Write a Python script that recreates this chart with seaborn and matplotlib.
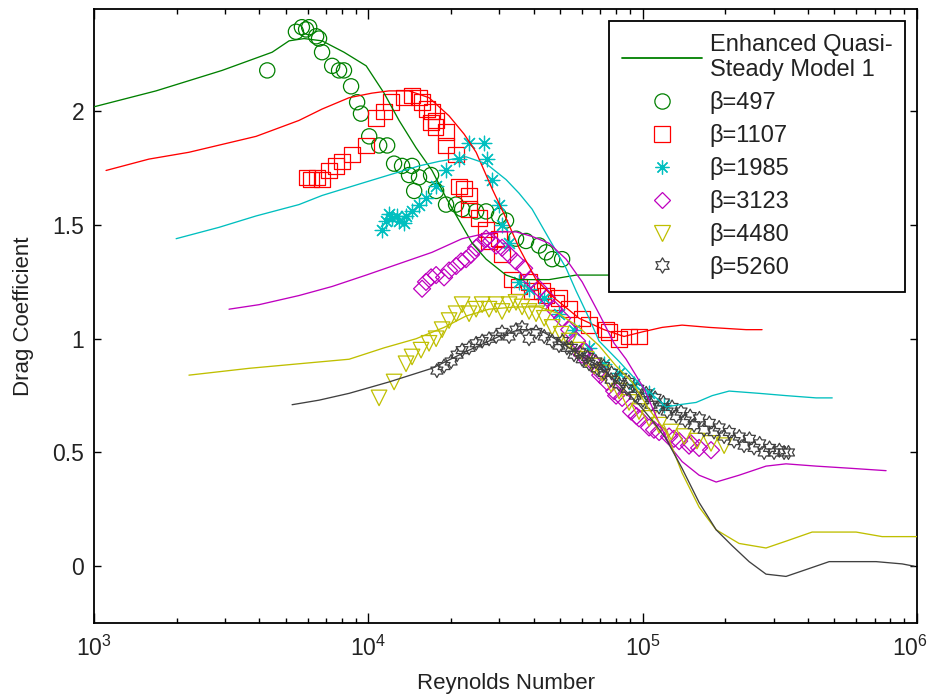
import numpy as np
import matplotlib
matplotlib.use("Agg")
import matplotlib.pyplot as plt
import seaborn as sns
from matplotlib.lines import Line2D
from matplotlib.path import Path
from matplotlib.transforms import ScaledTranslation
from matplotlib.ticker import FixedLocator, LogLocator, NullFormatter

# ---------------- data ----------------
betas = ["β=497", "β=1107", "β=1985", "β=3123", "β=4480", "β=5260"]
model_label = "Enhanced Quasi-\nSteady Model 1"

# experimental points
exp497_re = [4280, 5445, 5725, 5930, 6085, 6450, 6610, 6780, 7380, 7820, 8150, 8650, 9100, 9400,
             10070, 10950, 11710, 12410, 13270, 14430, 14070, 15300, 16930, 14690, 17660, 19200,
             20880, 21970, 24710, 26870, 29940, 31760, 34540, 37560, 41910, 44460, 46770, 50850]
exp497_cd = [2.18, 2.35, 2.37, 2.36, 2.37, 2.33, 2.32, 2.26, 2.20, 2.18, 2.18, 2.11, 2.04, 1.99,
             1.89, 1.85, 1.85, 1.77, 1.76, 1.76, 1.72, 1.71, 1.72, 1.65, 1.65, 1.59,
             1.59, 1.57, 1.56, 1.56, 1.54, 1.52, 1.44, 1.43, 1.41, 1.38, 1.35, 1.35]

exp1107_re = [5985, 6185, 6500, 6780, 7190, 7620, 8020, 8730, 9820, 10670, 11410, 12100, 13500,
              14430, 15300, 15690, 16370, 17060, 17660, 16900, 17600, 19200, 19200, 20880, 21420,
              22300, 23290, 23290, 25330, 26870, 27540, 29940, 30710, 33410, 35420, 38530, 39530,
              42980, 44460, 48330, 49540, 53950, 60170, 63780, 73620, 75530, 82070, 89200, 97000]
exp1107_cd = [1.71, 1.70, 1.71, 1.70, 1.74, 1.76, 1.78, 1.81, 1.85, 1.97, 2.00, 2.04, 2.06,
              2.07, 2.06, 2.04, 2.01, 2.00, 1.96, 1.95, 1.93, 1.91, 1.85, 1.81, 1.67,
              1.66, 1.63, 1.57, 1.53, 1.48, 1.43, 1.44, 1.37, 1.26, 1.23, 1.25, 1.21,
              1.21, 1.19, 1.16, 1.18, 1.13, 1.09, 1.06, 1.04, 1.03, 1.00, 1.01, 1.01]

exp1985_re = [11220, 11620, 11890, 12190, 12730, 12940, 13500, 13720, 14430, 15300, 16220, 17660,
              19200, 21420, 23290, 26430, 27100, 28250, 29940, 30710, 32580, 35420, 38530, 43650,
              49540, 56200, 63780, 72330, 82070, 93100, 105500, 119700]
exp1985_cd = [1.48, 1.52, 1.55, 1.53, 1.54, 1.52, 1.51, 1.54, 1.56, 1.59, 1.62, 1.67,
              1.74, 1.79, 1.86, 1.86, 1.79, 1.70, 1.59, 1.50, 1.42, 1.25, 1.22, 1.18,
              1.11, 1.04, 0.96, 0.89, 0.85, 0.80, 0.76, 0.71]

exp3123_re = [15700, 16220, 16930, 17660, 18880, 19690, 20880, 21780, 22710, 23680, 24710, 25760,
              26870, 28000, 29220, 30710, 32580, 34540, 36970, 39170, 41910, 44800, 47530, 50850,
              53950, 57660, 61140, 65430, 69350, 74180, 78700, 84160, 90760, 97000, 105500,
              114800, 124800, 135800, 147600, 160600, 177500,
              60000, 70000, 80000, 95000, 110000, 130000, 150000]
exp3123_cd = [1.22, 1.25, 1.27, 1.28, 1.27, 1.30, 1.32, 1.34, 1.35, 1.37, 1.40, 1.42,
              1.44, 1.43, 1.41, 1.40, 1.37, 1.34, 1.31, 1.26, 1.22, 1.18, 1.13, 1.09,
              1.04, 0.99, 0.95, 0.90, 0.86, 0.81, 0.77, 0.74, 0.68, 0.65, 0.61,
              0.59, 0.57, 0.55, 0.53, 0.52, 0.51,
              0.93, 0.84, 0.75, 0.66, 0.60, 0.56, 0.54]

exp4480_re = [10940, 12410, 13720, 14430, 15560, 16640, 17660, 18570, 19690, 20880, 21970, 23290,
              24710, 25990, 27540, 29220, 30710, 32580, 34540, 36340, 38530, 40860, 43750, 46770,
              50470, 53950, 57660, 62170, 66530, 71130, 76700, 82070, 89200, 97000, 105500,
              114800, 127000, 141600, 157800, 177500, 198100]
exp4480_cd = [0.74, 0.81, 0.89, 0.92, 0.95, 0.98, 1.00, 1.04, 1.08, 1.11, 1.15, 1.11,
              1.13, 1.15, 1.13, 1.15, 1.12, 1.15, 1.16, 1.14, 1.12, 1.11, 1.09, 1.05,
              1.02, 0.99, 0.95, 0.91, 0.88, 0.85, 0.80, 0.77, 0.72, 0.68, 0.65,
              0.62, 0.59, 0.57, 0.55, 0.54, 0.53]

exp5260_re = [17780, 18880, 20030, 21060, 21970, 23290, 24710, 25990, 27540, 29220, 30710, 32580,
              34540, 36340, 38530, 40860, 43750, 46770, 49540, 52970, 56200, 60170, 63780, 68180,
              72330, 76700, 82070, 87700, 93800, 100200, 107300, 114800, 122800, 132500, 142900,
              153900, 167400, 182000, 198100, 215400, 234200, 254700, 277200, 301300, 327700,
              51000, 55000, 59000, 63000, 67500, 72000, 77000, 83000, 89000, 96000, 103000,
              111000, 119000, 128000, 138000, 149000, 161000, 175000, 190000, 207000, 225000,
              245000, 267000, 290000, 315000, 340000]
exp5260_cd = [0.86, 0.88, 0.90, 0.93, 0.95, 0.96, 0.98, 0.99, 1.00, 1.01, 1.03, 1.01,
              1.04, 1.05, 1.00, 1.03, 1.01, 0.99, 0.97, 0.96, 0.93, 0.91, 0.89, 0.87,
              0.85, 0.82, 0.80, 0.78, 0.75, 0.73, 0.71, 0.70, 0.68, 0.66, 0.64,
              0.62, 0.60, 0.59, 0.57, 0.55, 0.53, 0.52, 0.50, 0.50, 0.50,
              0.99, 0.96, 0.94, 0.92, 0.90, 0.88, 0.85, 0.83, 0.81, 0.78, 0.76,
              0.74, 0.72, 0.70, 0.68, 0.66, 0.65, 0.63, 0.61, 0.59, 0.57,
              0.56, 0.54, 0.52, 0.51, 0.50]

# model curves
mod497_re = [1000, 1683, 2930, 4460, 5140, 5830, 6780, 8150, 9820, 11410, 12940, 14920, 17060,
             19200, 21420, 23900, 26870, 31760, 35420, 39530, 45570, 57200, 75400, 120000]
mod497_cd = [2.02, 2.09, 2.18, 2.26, 2.31, 2.32, 2.31, 2.26, 2.20, 2.08, 1.96, 1.84, 1.74,
             1.62, 1.52, 1.42, 1.35, 1.28, 1.26, 1.26, 1.26, 1.28, 1.28, 1.28]

mod1107_re = [1106, 1585, 2218, 3897, 5585, 6780, 8510, 10300, 11890, 14070, 16640, 19690, 22340,
              24710, 28250, 31760, 35420, 40860, 47530, 58670, 72330, 85500, 99500, 117800,
              139200, 174600, 238300, 272400]
mod1107_cd = [1.74, 1.79, 1.82, 1.89, 1.96, 2.01, 2.06, 2.08, 2.09, 2.09, 2.06, 1.98, 1.90,
              1.82, 1.66, 1.53, 1.40, 1.26, 1.18, 1.09, 1.04, 1.01, 1.03, 1.05,
              1.06, 1.05, 1.04, 1.04]

mod1985_re = [1992, 2856, 3897, 5585, 6780, 9250, 11890, 15300, 18100, 22710, 26870, 31760, 35420,
              39530, 45570, 52590, 57200, 63780, 69350, 82070, 99500, 112000, 121700, 135800,
              156600, 179300, 206600, 265600, 333100, 428800, 490900]
mod1985_cd = [1.44, 1.49, 1.54, 1.59, 1.63, 1.68, 1.72, 1.76, 1.78, 1.80, 1.77, 1.70, 1.64,
              1.57, 1.44, 1.31, 1.21, 1.09, 0.99, 0.90, 0.79, 0.74, 0.70, 0.71,
              0.72, 0.75, 0.77, 0.76, 0.75, 0.74, 0.74]

mod3123_re = [3105, 4000, 5585, 7380, 9820, 12940, 17060, 21970, 26000, 29940, 34540, 39530, 45570,
              52590, 60170, 69350, 78700, 87010, 101200, 114800, 127000, 139200, 160600, 185300,
              224600, 281600, 333100, 428800, 580000, 771400]
mod3123_cd = [1.13, 1.15, 1.19, 1.23, 1.28, 1.33, 1.38, 1.44, 1.46, 1.47, 1.47, 1.45, 1.42,
              1.35, 1.25, 1.11, 0.98, 0.91, 0.78, 0.63, 0.52, 0.46, 0.40, 0.37,
              0.40, 0.44, 0.45, 0.44, 0.43, 0.42]

mod4480_re = [2218, 3675, 5585, 8510, 11410, 14920, 18880, 22710, 27540, 34540, 41910, 49540, 58670,
              69350, 80010, 91520, 105500, 121700, 139200, 160600, 185300, 224600, 281600,
              333100, 414600, 600000, 746400, 1000000]
mod4480_cd = [0.84, 0.87, 0.89, 0.91, 0.96, 1.00, 1.05, 1.10, 1.13, 1.14, 1.14, 1.11, 1.05,
              0.97, 0.88, 0.81, 0.69, 0.59, 0.41, 0.26, 0.16, 0.10, 0.08,
              0.11, 0.15, 0.15, 0.13, 0.13]

mod5260_re = [5272, 6610, 8510, 11890, 17060, 23290, 29940, 35420, 41910, 49540, 58670, 69350,
              82070, 97000, 110200, 121700, 139200, 160600, 185300, 211900, 244300, 281600,
              333100, 394100, 478500, 709600, 883000, 975800]
mod5260_cd = [0.71, 0.73, 0.76, 0.81, 0.87, 0.95, 1.01, 1.04, 1.04, 0.99, 0.93, 0.88,
              0.80, 0.71, 0.63, 0.56, 0.43, 0.28, 0.16, 0.09, 0.02, -0.035,
              -0.045, -0.015, 0.02, 0.02, 0.01, 0.0]

xtick_vals = [1e3, 1e4, 1e5, 1e6]
xtick_labels = [r"$10^{3}$", r"$10^{4}$", r"$10^{5}$", r"$10^{6}$"]
ytick_vals = [0, 0.5, 1, 1.5, 2]
ytick_labels = ["0", "0.5", "1", "1.5", "2"]

# ---------------- style ----------------
sns.set_theme(style="ticks")
plt.rcParams["font.family"] = ["Liberation Sans", "DejaVu Sans"]
plt.rcParams["mathtext.fontset"] = "custom"
plt.rcParams["mathtext.rm"] = "Liberation Sans"
plt.rcParams["mathtext.it"] = "Liberation Sans"
plt.rcParams["mathtext.default"] = "regular"

GREEN, RED, CYAN, MAG, YEL, BLK = "#008000", "#ff0000", "#00bfbf", "#bf00bf", "#bfbf00", "#404040"

ang = np.deg2rad(90 + np.arange(12) * 30)
rad = np.where(np.arange(12) % 2 == 0, 1.0, 0.577)
hv = np.column_stack([rad * np.cos(ang), rad * np.sin(ang)])
hexagram = Path(np.vstack([hv, hv[:1]]), closed=True)
asterisk = (8, 2, 0)

fig = plt.figure(figsize=(9.32, 6.98), dpi=100)
ax = fig.add_axes([0.1009, 0.1074, 0.8830, 0.8797])
ax.set_xscale("log")

series = [
    (exp497_re, exp497_cd, "o", GREEN, 120),
    (exp1107_re, exp1107_cd, "s", RED, 125),
    (exp1985_re, exp1985_cd, asterisk, CYAN, 110),
    (exp3123_re, exp3123_cd, "D", MAG, 75),
    (exp4480_re, exp4480_cd, "v", YEL, 125),
    (exp5260_re, exp5260_cd, hexagram, BLK, 100),
]
for re_, cd_, mk, col, sz in series:
    if mk is asterisk:
        sns.scatterplot(x=re_, y=cd_, ax=ax, marker=mk, s=sz, color=col,
                        edgecolor=col, linewidth=0.9, zorder=3, legend=False)
    else:
        sns.scatterplot(x=re_, y=cd_, ax=ax, marker=mk, s=sz, facecolor="none",
                        edgecolor=col, linewidth=0.9, zorder=3, legend=False)

models = [
    (mod497_re, mod497_cd, GREEN), (mod1107_re, mod1107_cd, RED),
    (mod1985_re, mod1985_cd, CYAN), (mod3123_re, mod3123_cd, MAG),
    (mod4480_re, mod4480_cd, YEL), (mod5260_re, mod5260_cd, BLK),
]
for re_, cd_, col in models:
    sns.lineplot(x=re_, y=cd_, ax=ax, color=col, linewidth=0.95, sort=False,
                 estimator=None, zorder=4, legend=False)

ax.set_xlim(1e3, 1e6)
ax.set_ylim(-0.25, 2.45)
ax.xaxis.set_major_locator(FixedLocator(xtick_vals))
ax.set_xticklabels(xtick_labels)
ax.xaxis.set_minor_locator(LogLocator(base=10, subs=np.arange(2, 10)))
ax.xaxis.set_minor_formatter(NullFormatter())
ax.set_yticks(ytick_vals)
ax.set_yticklabels(ytick_labels)

ax.tick_params(axis="both", which="both", direction="in", top=True, right=True,
               labelsize=16.5, color="black", width=1.0, labelcolor="#222222")
ax.tick_params(axis="x", which="major", length=7, pad=9)
ax.tick_params(axis="x", which="minor", length=3.6)
ax.tick_params(axis="y", which="major", length=5, pad=7)
for sp in ax.spines.values():
    sp.set_linewidth(1.3)
    sp.set_color("black")

# keep the last decade label inside the canvas
last = ax.get_xticklabels()[-1]
last.set_transform(last.get_transform() + ScaledTranslation(-5 / 72, 0, fig.dpi_scale_trans))

ax.set_xlabel("Reynolds Number", fontsize=16, color="#222222", labelpad=9)
ax.set_ylabel("Drag Coefficient", fontsize=16, color="#222222", labelpad=13)

handles = [Line2D([], [], color=GREEN, lw=1.3)]
for _, _, mk, col, sz in series:
    if mk is asterisk:
        handles.append(Line2D([], [], ls="none", marker=mk, color=col, ms=10, mew=0.9))
    else:
        handles.append(Line2D([], [], ls="none", marker=mk, mfc="none", mec=col,
                              ms=8.5 if mk == "D" else 11, mew=0.9))
labels = [model_label] + betas
leg = ax.legend(handles, labels, loc="upper right", fontsize=17, frameon=True,
                fancybox=False, edgecolor="black", framealpha=1, borderaxespad=0.5,
                handlelength=3.4, handletextpad=0.3, labelspacing=0.42, borderpad=0.55)
leg.get_frame().set_linewidth(1.3)
for t in leg.get_texts():
    t.set_color("#222222")

fig.savefig("out.png", dpi=100)
